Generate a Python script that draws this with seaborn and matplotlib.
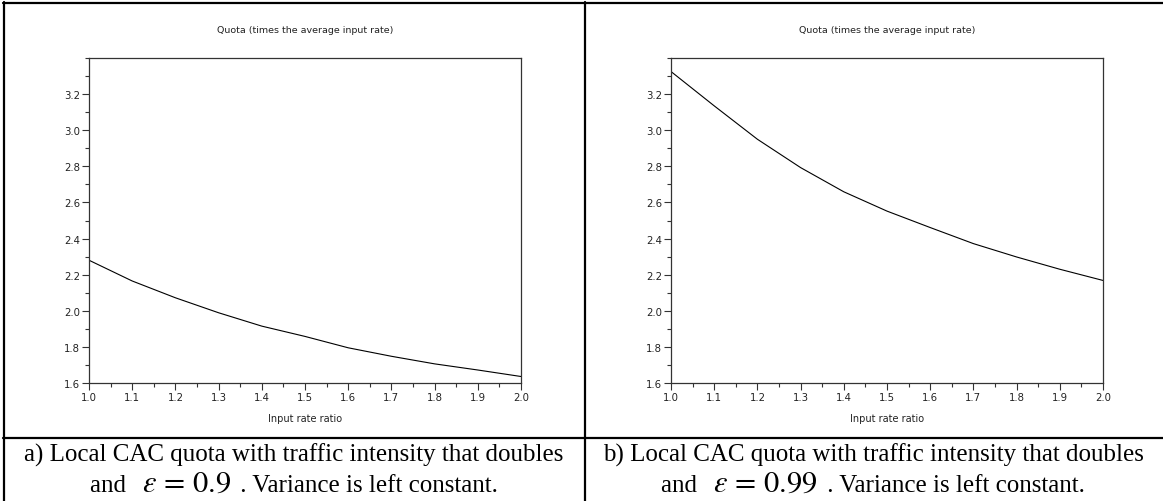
import numpy as np
import pandas as pd
import matplotlib
matplotlib.use("Agg")
import matplotlib.pyplot as plt
from matplotlib.lines import Line2D
from matplotlib.ticker import MultipleLocator, FormatStrFormatter
import seaborn as sns

# ---- data ----
input_rate_ratio = [1.0, 1.1, 1.2, 1.3, 1.4, 1.5, 1.6, 1.7, 1.8, 1.9, 2.0]
quota_eps_09 = [2.28, 2.165, 2.072, 1.989, 1.915, 1.858, 1.795, 1.748, 1.706, 1.672, 1.636]
quota_eps_099 = [3.325, 3.135, 2.950, 2.793, 2.659, 2.552, 2.461, 2.372, 2.298, 2.230, 2.168]

plot_title = "Quota (times the average input rate)"
x_label = "Input rate ratio"
caption_line1 = ["a) Local CAC quota with traffic intensity that doubles",
                 "b) Local CAC quota with traffic intensity that doubles"]
caption_eps = [r"$\varepsilon\,=\,0.9$", r"$\varepsilon\,=\,0.99$"]
caption_pre = "and  "
caption_post = " . Variance is left constant."

sns.set_style("white")
plt.rcParams["font.family"] = ["DejaVu Sans"]
plt.rcParams["mathtext.fontset"] = "stix"

W, H = 1163, 502
fig = plt.figure(figsize=(W / 100, H / 100), dpi=100)

def fx(px):
    return px / W

def fy(py):
    return 1 - py / H

ax_w = fx(432)
ax_h = (384 - 59) / H
axes = [fig.add_axes([fx(89), fy(384), ax_w, ax_h]),
        fig.add_axes([fx(671), fy(384), ax_w, ax_h])]

series = [quota_eps_09, quota_eps_099]
for ax, yvals in zip(axes, series):
    df = pd.DataFrame({"ratio": input_rate_ratio, "quota": yvals})
    sns.lineplot(data=df, x="ratio", y="quota", ax=ax, color="black",
                 linewidth=0.8)
    ax.set_xlim(1.0, 2.0)
    ax.set_ylim(1.6, 3.4)
    ax.xaxis.set_major_locator(MultipleLocator(0.1))
    ax.xaxis.set_minor_locator(MultipleLocator(0.05))
    ax.yaxis.set_minor_locator(MultipleLocator(0.1))
    ax.xaxis.set_major_formatter(FormatStrFormatter("%.1f"))
    ax.set_yticks([1.6, 1.8, 2.0, 2.2, 2.4, 2.6, 2.8, 3.0, 3.2])
    ax.yaxis.set_major_formatter(FormatStrFormatter("%.1f"))
    ax.tick_params(axis="both", which="major", direction="out", length=5,
                   width=0.8, color="#333333", labelsize=7.3, pad=1.5,
                   labelcolor="#222222",
                   top=False, right=False, bottom=True, left=True)
    ax.tick_params(axis="both", which="minor", direction="out", length=3,
                   width=0.8, color="#333333", top=False, right=False,
                   bottom=True, left=True)
    for s in ax.spines.values():
        s.set_visible(True)
        s.set_color("#333333")
        s.set_linewidth(0.9)
    ax.set_xlabel(x_label, fontsize=7, labelpad=8, color="#222222")
    ax.set_ylabel("")
    ax.set_title(plot_title, fontsize=6.8, pad=19, color="#222222")

# table grid lines
lw = 1.6
fig.add_artist(Line2D([fx(3), fx(1163)], [fy(4), fy(4)], color="black", lw=lw))
fig.add_artist(Line2D([fx(3), fx(1163)], [fy(439), fy(439)], color="black", lw=lw))
fig.add_artist(Line2D([fx(4), fx(4)], [fy(3), fy(502)], color="black", lw=lw))
fig.add_artist(Line2D([fx(585), fx(585)], [fy(3), fy(502)], color="black", lw=lw))

# captions
renderer = fig.canvas.get_renderer()
centers = [294, 873]
for i, cx in enumerate(centers):
    fig.text(fx(cx), fy(455), caption_line1[i], ha="center", va="center",
             family="Liberation Serif", fontsize=18, color="black")
    parts = [(caption_pre, 18), (caption_eps[i], 22), (caption_post, 18)]
    texts = []
    widths = []
    for s, fs in parts:
        t = fig.text(0, fy(492), s, ha="left", va="baseline",
                     family="Liberation Serif", fontsize=fs, color="black")
        texts.append(t)
        widths.append(t.get_window_extent(renderer).width)
    gap = 3
    total = sum(widths) + gap * 2
    x = cx - total / 2
    for t, w in zip(texts, widths):
        t.set_x(fx(x))
        x += w + gap

fig.savefig("out.png", dpi=100)
